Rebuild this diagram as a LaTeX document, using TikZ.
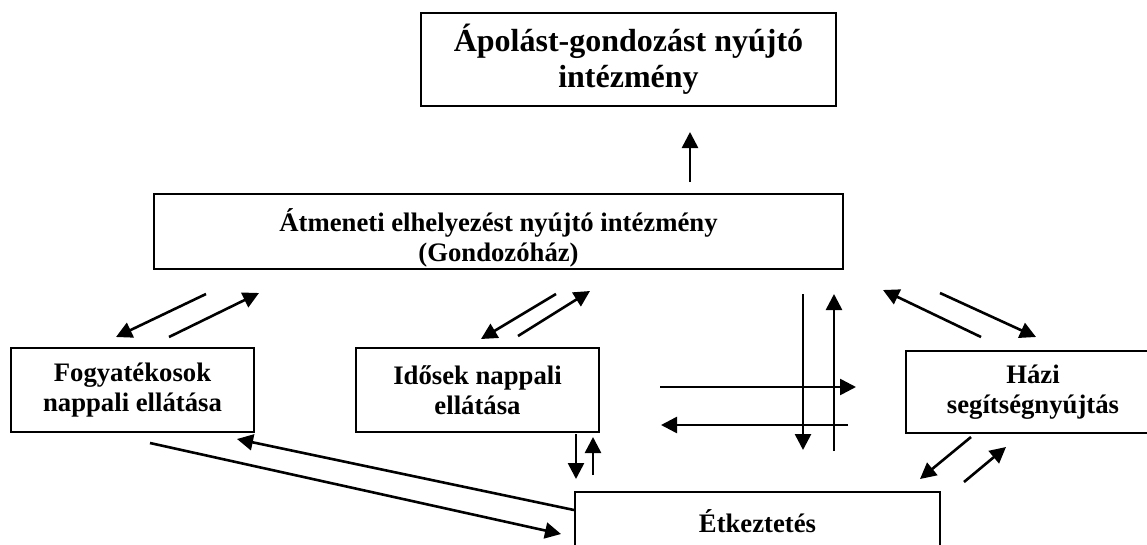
\documentclass[tikz,border=0pt]{standalone}
\usepackage{fontspec}
\setmainfont{Liberation Serif}
\usetikzlibrary{arrows.meta}
\begin{document}
\begin{tikzpicture}[>={Triangle[length=16pt,width=16pt]}, x=1pt, y=-1pt, line width=2.6pt,
    box/.style={draw, line width=2pt, align=center, inner sep=0pt, font=\fontsize{26.7pt}{30.5pt}\selectfont\bfseries}]

    \clip (0,0) rectangle (1147,544);

    \node[box, minimum width=415pt, minimum height=93pt, font=\fontsize{32pt}{36pt}\selectfont\bfseries] (apol) at (628.5,59.5) {Ápolást-gondozást nyújtó\\intézmény};
    \node[box, minimum width=689pt, minimum height=75pt] (atm) at (498.5,231.5) {\rule{0pt}{36pt}Átmeneti elhelyezést nyújtó intézmény\\(Gondozóház)};
    \node[box, minimum width=243pt, minimum height=84pt] (fogy) at (132.5,390) {Fogyatékosok\\nappali ellátása};
    \node[box, minimum width=243pt, minimum height=84pt] (idos) at (477.5,390) {Idősek nappali\\ellátása};
    \node[box, minimum width=254pt, minimum height=82pt] (hazi) at (1033,392) {Házi\\segítségnyújtás};
    \node[box, minimum width=365pt, minimum height=58pt] (etk) at (757.5,521) {Étkeztetés};

    \coordinate (up1) at (690,182); \coordinate (up2) at (690,132);

    \coordinate (fa1) at (206,294); \coordinate (fa2) at (116,337);
    \coordinate (fb1) at (169,337); \coordinate (fb2) at (259,293);
    \coordinate (ia1) at (556,294); \coordinate (ia2) at (481,339);
    \coordinate (ib1) at (518,336); \coordinate (ib2) at (590,291);

    \coordinate (fe1) at (150,443); \coordinate (fe2) at (561,534);
    \coordinate (ef1) at (574,510); \coordinate (ef2) at (237,439);
    \coordinate (ie1) at (576,434); \coordinate (ie2) at (576,479);
    \coordinate (ei1) at (593,475); \coordinate (ei2) at (593,437);

    \coordinate (ih1) at (660,387); \coordinate (ih2) at (856,387);
    \coordinate (hi1) at (848,425); \coordinate (hi2) at (661,425);
    \coordinate (ae1) at (803,294); \coordinate (ae2) at (803,450);
    \coordinate (ea1) at (834,451); \coordinate (ea2) at (834,294);

    \coordinate (ha1) at (981,337); \coordinate (ha2) at (883,290);
    \coordinate (ah1) at (940,293); \coordinate (ah2) at (1036,337);
    \coordinate (he1) at (971,437); \coordinate (he2) at (920,479);
    \coordinate (eh1) at (964,482); \coordinate (eh2) at (1006,447);

    \draw[->] (up1)--(up2);
    \draw[->] (fa1)--(fa2); \draw[->] (fb1)--(fb2);
    \draw[->] (ia1)--(ia2); \draw[->] (ib1)--(ib2);
    \draw[->] (fe1)--(fe2); \draw[->] (ef1)--(ef2);
    \draw[->] (ie1)--(ie2); \draw[->] (ei1)--(ei2);
    \draw[->] (ih1)--(ih2); \draw[->] (hi1)--(hi2);
    \draw[->] (ae1)--(ae2); \draw[->] (ea1)--(ea2);
    \draw[->] (ha1)--(ha2); \draw[->] (ah1)--(ah2);
    \draw[->] (he1)--(he2); \draw[->] (eh1)--(eh2);

\end{tikzpicture}
\end{document}
